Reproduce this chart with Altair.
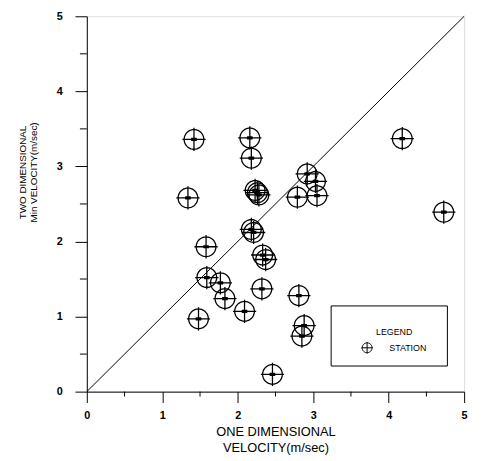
import altair as alt
import pandas as pd
import numpy as np

# ---- data ----
one_dim = [1.42, 2.16, 2.18, 1.34, 2.23, 2.26, 2.28, 2.92, 3.03, 2.79, 3.05, 4.18, 4.73,
           2.18, 2.21, 1.58, 2.33, 2.37, 1.59, 1.77, 1.83, 1.48, 2.09, 2.32, 2.81, 2.88,
           2.85, 2.46]
two_dim = [3.36, 3.38, 3.11, 2.58, 2.68, 2.65, 2.62, 2.90, 2.80, 2.59, 2.61, 3.37, 2.39,
           2.16, 2.12, 1.93, 1.82, 1.76, 1.52, 1.45, 1.24, 0.97, 1.07, 1.37, 1.28, 0.88,
           0.74, 0.23]
diag_x = [0, 5]
diag_y = [0, 5]
major_ticks = [0, 1, 2, 3, 4, 5]
minor_ticks = [0.5, 1.5, 2.5, 3.5, 4.5]
series_name = "STATION"
legend_title = "LEGEND"
x_title = ["ONE DIMENSIONAL", "VELOCITY(m/sec)"]
y_title = ["TWO DIMENSIONAL", "Min VELOCITY(m/sec)"]

FONT = "Liberation Sans"
W, H = 383, 381

df = pd.DataFrame({"x": one_dim, "y": two_dim, "type": [series_name] * len(one_dim)})
diag = pd.DataFrame({"x": diag_x, "y": diag_y})
minor = pd.DataFrame({"v": minor_ticks})

# circle-with-crosshair symbol (unit coordinates)
ang = np.linspace(0, 2 * np.pi, 41)[:-1]
circle = "M" + "L".join(f"{np.cos(a):.3f},{np.sin(a):.3f}" for a in ang) + "Z"
symbol_path = circle + "M-1.18,0L1.18,0M0,-1.18L0,1.18"
blob_path = "M-0.5,-0.3L0.5,-0.3L0.55,0L0.5,0.3L-0.5,0.3L-0.55,0Z"

xscale = alt.Scale(domain=[0, 5], nice=False, zero=False)
yscale = alt.Scale(domain=[0, 5], nice=False, zero=False)

x_axis = alt.Axis(
    values=major_ticks, format="d", tickSize=11,
    tickColor="black", domainColor="black", grid=False,
    labelFont=FONT, labelFontSize=11, labelFontWeight="bold", labelColor="black",
    labelPadding=7, labelFlush=False,
    title=x_title, titleFont=FONT, titleFontSize=13, titleFontWeight="normal",
    titleColor="black", titleLineHeight=16, titleY=35, titleBaseline="top",
)
y_axis = alt.Axis(
    values=major_ticks, format="d", tickSize=12,
    tickColor="black", domainColor="black", grid=False,
    labelFont=FONT, labelFontSize=11, labelFontWeight="bold", labelColor="black",
    labelPadding=13, labelFlush=False,
    title=y_title, titleFont=FONT, titleFontSize=10, titleFontWeight="normal",
    titleColor="black", titleLineHeight=11, titleX=-60, titleY=158,
    titleBaseline="bottom", titleAngle=-90,
)

line = alt.Chart(diag).mark_line(color="black", strokeWidth=1).encode(
    x=alt.X("x:Q", scale=xscale, axis=x_axis),
    y=alt.Y("y:Q", scale=yscale, axis=y_axis),
)

minor_x = alt.Chart(minor).mark_rule(color="black", strokeWidth=1).encode(
    x=alt.X("v:Q", scale=xscale), y=alt.value(H), y2=alt.value(H + 5)
)
minor_y = alt.Chart(minor).mark_rule(color="black", strokeWidth=1).encode(
    y=alt.Y("v:Q", scale=yscale), x=alt.value(-7), x2=alt.value(0)
)

markers = alt.Chart(df).mark_point(filled=False, strokeWidth=1.3, opacity=1, color="black").encode(
    x=alt.X("x:Q", scale=xscale),
    y=alt.Y("y:Q", scale=yscale),
    shape=alt.Shape("type:N", scale=alt.Scale(domain=[series_name], range=[symbol_path]),
                    legend=alt.Legend(
                        title=legend_title, orient="none", legendX=279, legendY=317,
                        titleFont=FONT, titleFontSize=9, titleFontWeight="normal",
                        titleColor="black", titleAnchor="middle", titlePadding=5,
                        labelFont=FONT, labelFontSize=9, labelColor="black",
                        labelOffset=17, symbolSize=100, symbolStrokeColor="black",
                        symbolFillColor="transparent", symbolStrokeWidth=1, padding=0)),
    size=alt.value(400),
)

blobs = alt.Chart(df).mark_point(filled=True, color="black", opacity=1, shape=blob_path).encode(
    x=alt.X("x:Q", scale=xscale),
    y=alt.Y("y:Q", scale=yscale),
    size=alt.value(120),
)

legend_box = alt.Chart(pd.DataFrame({"a": [0]})).mark_rect(
    fill="white", stroke="black", strokeWidth=1
).encode(
    x=alt.value(248), x2=alt.value(366), y=alt.value(294), y2=alt.value(355)
)

chart = alt.layer(line, minor_x, minor_y, markers, blobs, legend_box).properties(
    width=W, height=H,
    autosize=alt.AutoSizeParams(type="none"),
    padding={"left": 80, "top": 5, "right": 10, "bottom": 67},
).configure_view(stroke="black", strokeWidth=1.5).configure(background="white")

chart.save("out.html", embed_options={"renderer": "svg", "actions": False})
